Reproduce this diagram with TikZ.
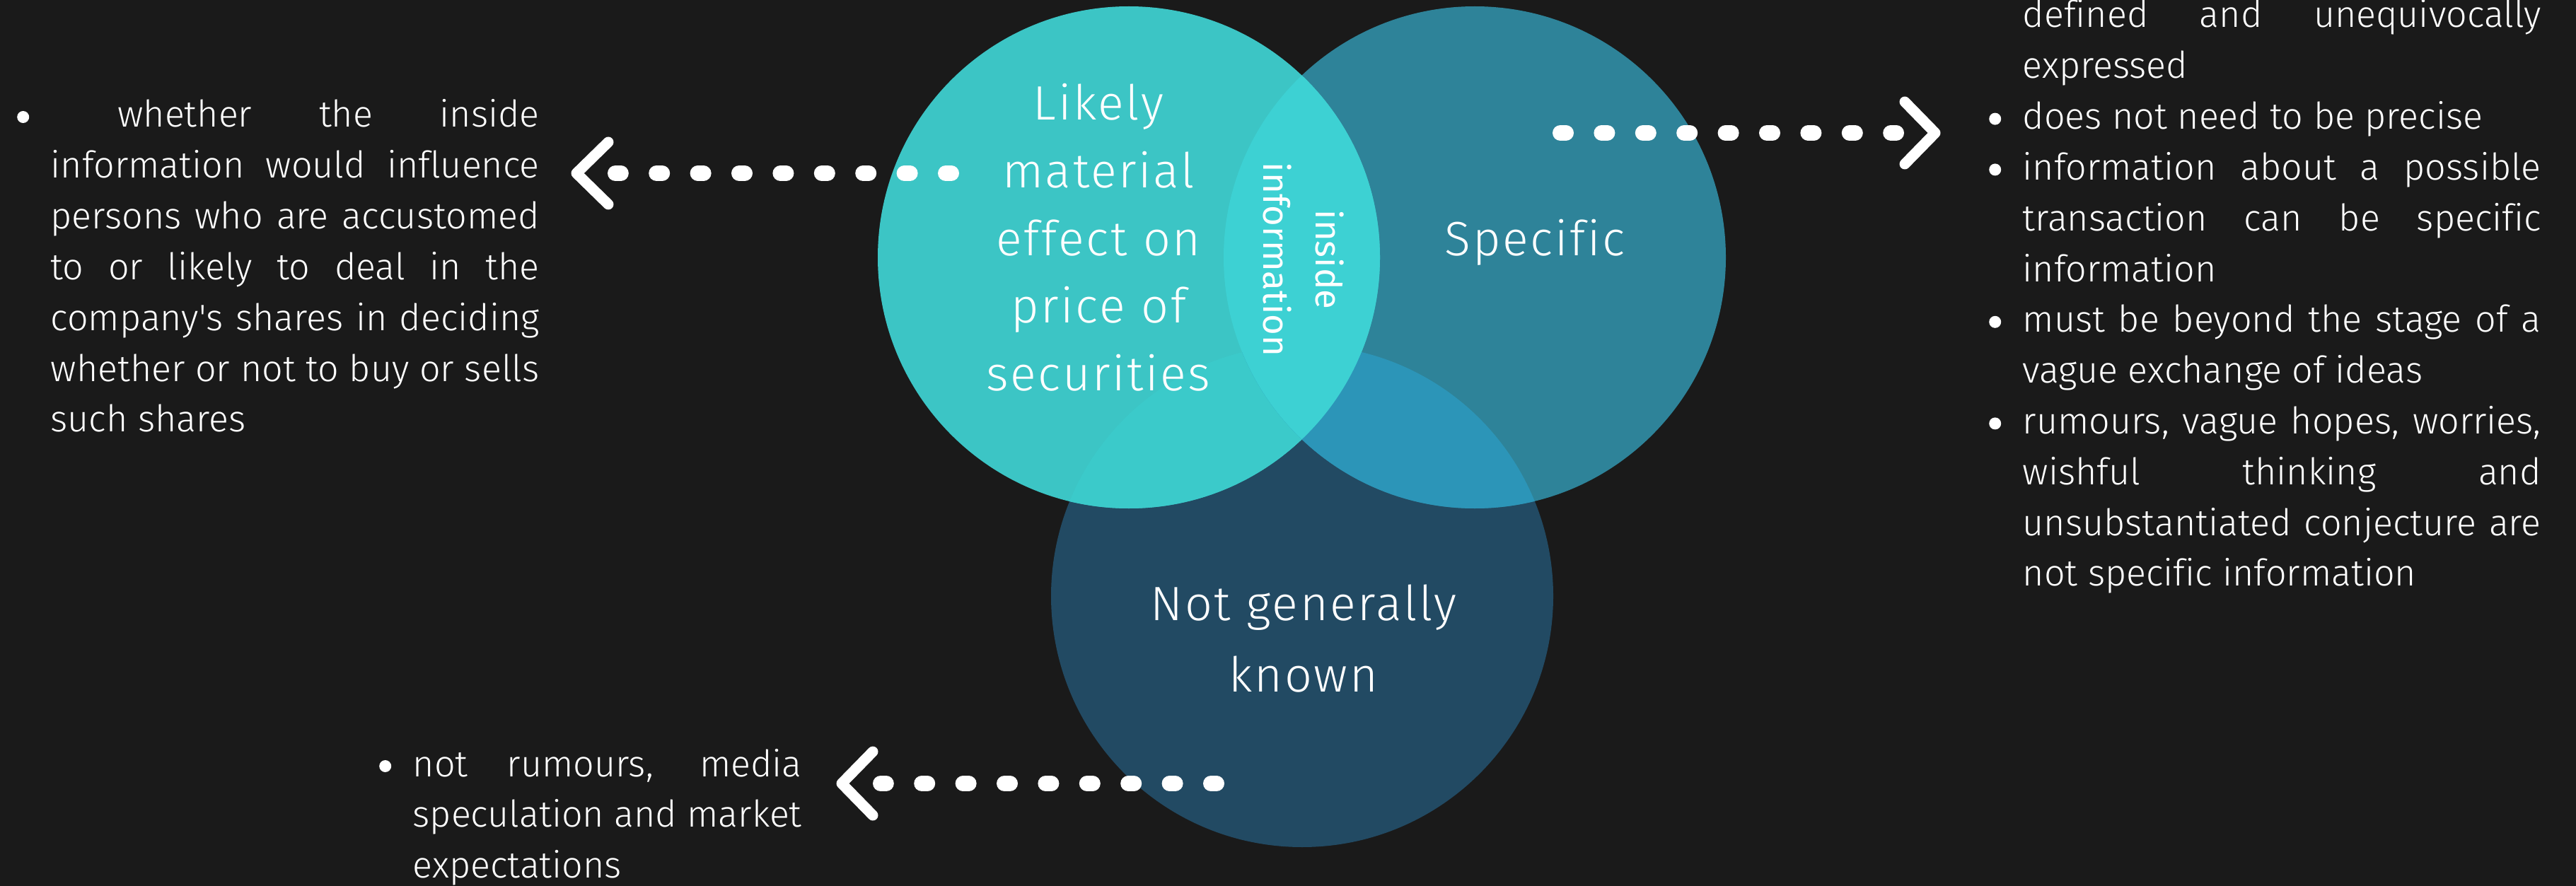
\documentclass[tikz,border=0pt]{standalone}
\usepackage{fontspec}
\newfontfamily\lightfont{Fira Sans Light}[Ligatures=NoCommon]
\newfontfamily\capfont{Fira Sans Light}[LetterSpace=4, Ligatures=NoCommon]
\newfontfamily\regfont{Fira Sans}[Ligatures=NoCommon]
\usepackage{tikz}
\usetikzlibrary{arrows.meta}
\definecolor{bgdark}{HTML}{1A1A1A}
\definecolor{matcol}{HTML}{3CC5C5}
\definecolor{speccol}{HTML}{2E8399}
\definecolor{knowncol}{HTML}{224A63}
\definecolor{lenscol}{HTML}{3DD1D3}
\definecolor{specknowncol}{HTML}{2C95B8}
\definecolor{matknowncol}{HTML}{3BCACA}
\newcommand\bul{\leavevmode\llap{\makebox[0pt]{\tikz[baseline=-0.145cm]\fill[white] (0,0) circle (0.085cm);}\hspace{0.39cm}}}
\tikzset{
    venn/.style={circle, minimum size=7.1cm, inner sep=0pt, draw=none},
    notes/.style={text=white, inner sep=0pt, anchor=base west, align=justify,
        font=\lightfont\fontsize{14.8pt}{20.43pt}\selectfont},
    venntext/.style={text=white, inner sep=0pt, anchor=base, align=center, text width=6cm,
        font=\capfont\fontsize{19.4pt}{27.2pt}\selectfont},
    dotline/.style={white, line width=0.22cm, line cap=round, dash pattern=on 0.08cm off 0.504cm},
    chevron/.style={white, line width=0.15cm, line cap=round, line join=round},
}
\begin{document}
\begin{tikzpicture}
    \useasboundingbox (0,0) rectangle (36.42,-12.53);
    \fill[bgdark] (0,0) rectangle (36.42,-12.53);

    % the three sets
    \node[venn, fill=knowncol] (known) at (18.41,-8.43) {};
    \node[venn, fill=speccol] (spec) at (20.85,-3.64) {};
    \node[venn, fill=matcol] (mat) at (15.96,-3.64) {};
    \begin{scope}
        \clip (mat.center) circle (3.55);
        \fill[matknowncol] (known.center) circle (3.55);
    \end{scope}
    \begin{scope}
        \clip (spec.center) circle (3.55);
        \fill[specknowncol] (known.center) circle (3.55);
    \end{scope}
    \begin{scope}
        \clip (mat.center) circle (3.55);
        \fill[lenscol] (spec.center) circle (3.55);
    \end{scope}

    \node[venntext] (matlabel) at (15.53,-1.70) {Likely\\material\\effect on\\price of\\securities};
    \node[venntext] (speclabel) at (21.70,-3.62) {Specific};
    \node[venntext, font=\capfont\fontsize{19.4pt}{29.0pt}\selectfont] (knownlabel) at (18.43,-8.77) {Not generally\\known};
    \node[text=white, inner sep=0pt, anchor=base, align=center, text width=4cm, rotate=-90,
        font=\regfont\fontsize{14.5pt}{20.8pt}\selectfont] (inside) at (18.60,-3.67) {inside\\information};

    % explanations
    \node[notes, text width=6.91cm] (matnotes) at (0.71,-1.80) {\bul\mbox{} whether the inside\linebreak
        information would influence\linebreak
        persons who are accustomed\linebreak
        to or likely to deal in the\linebreak
        company\textquotesingle s shares in deciding\linebreak
        whether or not to buy or sells\linebreak
        such shares};
    \node[notes, text width=7.33cm] (specnotes) at (28.59,-0.39) {defined and unequivocally\linebreak
        expressed\par
        \bul does not need to be precise\par
        \bul information about a possible\linebreak
        transaction can be specific\linebreak
        information\par
        \bul must be beyond the stage of a\linebreak
        vague exchange of ideas\par
        \bul rumours, vague hopes, worries,\linebreak
        wishful thinking and\linebreak
        unsubstantiated conjecture are\linebreak
        not specific information};
    \node[notes, text width=5.50cm] (knownnotes) at (5.83,-10.98) {\bul not rumours, media\linebreak
        speculation and market\linebreak
        expectations};

    % dotted pointers
    \coordinate (matfrom) at (13.45,-2.45);
    \coordinate (matto) at (8.70,-2.45);
    \coordinate (mattip) at (8.15,-2.45);
    \coordinate (specfrom) at (22.06,-1.88);
    \coordinate (specto) at (26.81,-1.88);
    \coordinate (spectip) at (27.36,-1.88);
    \coordinate (knownfrom) at (17.20,-11.08);
    \coordinate (knownto) at (12.45,-11.08);
    \coordinate (knowntip) at (11.90,-11.08);

    \draw[dotline] (matfrom) -- (matto);
    \draw[chevron] ([shift={(0.45,0.44)}]mattip) -- (mattip) -- ([shift={(0.45,-0.44)}]mattip);
    \draw[dotline] (specfrom) -- (specto);
    \draw[chevron] ([shift={(-0.43,0.44)}]spectip) -- (spectip) -- ([shift={(-0.43,-0.44)}]spectip);
    \draw[dotline] (knownfrom) -- (knownto);
    \draw[chevron] ([shift={(0.44,0.45)}]knowntip) -- (knowntip) -- ([shift={(0.44,-0.45)}]knowntip);
\end{tikzpicture}
\end{document}
